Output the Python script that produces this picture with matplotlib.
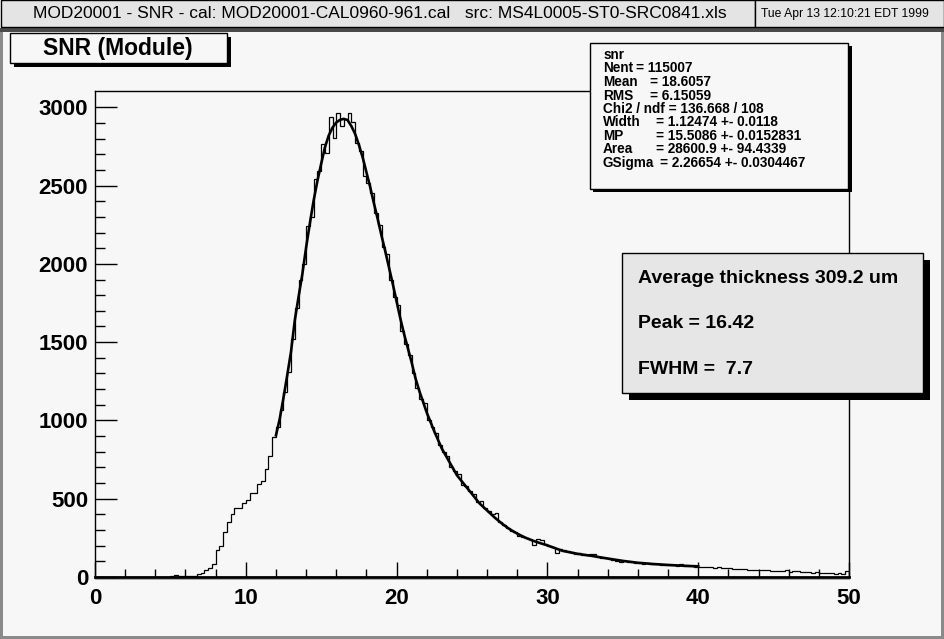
import numpy as np
import matplotlib
matplotlib.use("Agg")
import matplotlib.pyplot as plt
from matplotlib.patches import Rectangle

plt.rcParams["font.family"] = ["Liberation Sans", "DejaVu Sans"]

# histogram: 200 bins of 0.25 from 0 to 50
bin_lo, bin_hi = 0.0, 50.0
counts = [
    0, 0, 0, 0, 0, 0, 0, 0, 0, 0,
    0, 0, 0, 0, 0, 0, 0, 0, 0, 0,
    5, 13, 5, 5, 6, 6, 8, 19, 28, 43,
    60, 86, 170, 196, 285, 354, 401, 440, 440, 474,
    491, 536, 536, 592, 613, 690, 774, 896, 961, 1068,
    1182, 1310, 1520, 1716, 1900, 2000, 2240, 2300, 2540, 2593,
    2763, 2710, 2938, 2806, 2964, 2881, 2923, 2964, 2908, 2774,
    2720, 2560, 2517, 2453, 2325, 2250, 2110, 2060, 1900, 1790,
    1740, 1570, 1490, 1420, 1300, 1210, 1140, 1110, 1000, 955,
    920, 840, 800, 770, 700, 680, 660, 590, 580, 550,
    530, 480, 485, 440, 420, 400, 406, 350, 330, 310,
    295, 290, 265, 255, 250, 240, 205, 242, 238, 208,
    195, 190, 156, 178, 170, 165, 160, 150, 152, 140,
    138, 150, 148, 126, 124, 122, 118, 108, 100, 98,
    104, 96, 97, 92, 90, 86, 88, 83, 80, 82,
    78, 76, 77, 74, 72, 86, 70, 69, 68, 66,
    65, 64, 63, 62, 60, 61, 58, 57, 55, 52,
    50, 48, 49, 46, 44, 45, 47, 44, 42, 40,
    41, 36, 39, 42, 34, 38, 40, 33, 31, 30,
    28, 30, 26, 25, 27, 24, 22, 25, 21, 36,
]

# Landau (x) Gauss fit (range 12 - 40)
fit_x = [12.0, 12.25, 12.5, 12.75, 13.0, 13.25, 13.5, 13.75, 14.0, 14.25,
         14.5, 14.75, 15.0, 15.25, 15.5, 15.75, 16.0, 16.25, 16.5, 16.75,
         17.0, 17.25, 17.5, 17.75, 18.0, 18.25, 18.5, 18.75, 19.0, 19.25,
         19.5, 19.75, 20.0, 20.25, 20.5, 20.75, 21.0, 21.25, 21.5, 21.75,
         22.0, 22.5, 23.0, 23.5, 24.0, 24.5, 25.0, 25.5, 26.0, 26.5,
         27.0, 27.5, 28.0, 28.5, 29.0, 29.5, 30.0, 31.0, 32.0, 33.0,
         34.0, 35.0, 36.0, 37.0, 38.0, 39.0, 40.0]
fit_y = [905, 1010, 1145, 1290, 1440, 1640, 1790, 1935, 2105, 2260,
         2405, 2530, 2640, 2745, 2820, 2870, 2903, 2920, 2926, 2918,
         2880, 2830, 2760, 2680, 2585, 2490, 2385, 2285, 2180, 2080,
         1975, 1870, 1760, 1650, 1550, 1460, 1370, 1270, 1190, 1120,
         1050, 930, 820, 735, 650, 590, 530, 470, 425, 380,
         340, 305, 277, 253, 233, 217, 202, 167, 148, 134,
         118, 103, 91, 83, 77, 72, 68]

title_text = "MOD20001 - SNR - cal: MOD20001-CAL0960-961.cal   src: MS4L0005-ST0-SRC0841.xls"
date_text = "Tue Apr 13 12:10:21 EDT 1999"
hist_title = "SNR (Module)"
stat_names = ["Nent", "Mean", "RMS", "Chi2 / ndf", "Width", "MP", "Area", "GSigma"]
stat_values = ["115007", "18.6057", "6.15059", "136.668 / 108",
               "1.12474 +- 0.0118", "15.5086 +- 0.0152831",
               "28600.9 +- 94.4339", "2.26654 +- 0.0304467"]
info_lines = ["Average thickness 309.2 um", "Peak = 16.42", "FWHM =  7.7"]

W, H = 945, 639
PAD = "#f7f7f7"
BAR = "#e4e4e4"
BOXFILL = "#e6e6e6"

fig = plt.figure(figsize=(W / 100, H / 100), dpi=100)
fig.patch.set_facecolor(PAD)


def rect(x0, y0, x1, y1, z=2, **kw):
    r = Rectangle((x0 / W, 1 - y1 / H), (x1 - x0) / W, (y1 - y0) / H,
                  transform=fig.transFigure, zorder=z, **kw)
    fig.add_artist(r)
    return r


def text(x, y, s, z=6, **kw):
    return fig.text(x / W, 1 - y / H, s, zorder=z, **kw)


# pad borders
rect(0, 28, 3, H, z=1, facecolor="#8a8a8a", edgecolor="none")
rect(W - 4, 28, W, H, z=1, facecolor="#8a8a8a", edgecolor="none")
rect(0, H - 3, W, H, z=1, facecolor="#8a8a8a", edgecolor="none")
rect(0, 28, W, 32, z=1, facecolor="#4a4a4a", edgecolor="none")

# title bar
rect(0.5, 0.5, 755, 27, z=3, facecolor=BAR, edgecolor="black", lw=1)
rect(755, 0.5, W - 0.5, 27, z=3, facecolor=BAR, edgecolor="black", lw=1)
text(380, 14, title_text, fontsize=12.5, ha="center", va="center")
text(845, 14, date_text, fontsize=8.7, ha="center", va="center")

# main axes
x0, x1, ytop, ybot = 95, 849, 91, 577
ax = fig.add_axes([x0 / W, 1 - ybot / H, (x1 - x0) / W, (ybot - ytop) / H])
ax.set_facecolor("none")
edges = np.linspace(bin_lo, bin_hi, len(counts) + 1)
ax.stairs(counts, edges, color="black", lw=0.9)
ax.plot(fit_x, fit_y, color="black", lw=1.9)
ax.set_xlim(bin_lo, bin_hi)
ax.set_ylim(0, 3104)

ax.set_xticks(np.arange(0, 51, 10))
ax.set_xticks(np.arange(0, 51, 2), minor=True)
ax.set_yticks(np.arange(0, 3001, 500))
ax.set_yticks(np.arange(0, 3001, 100), minor=True)
ax.tick_params(axis="x", which="major", direction="in", length=10.8, width=1, pad=8)
ax.tick_params(axis="x", which="minor", direction="in", length=5.8, width=1)
ax.tick_params(axis="y", which="major", direction="in", length=16, width=1, pad=5)
ax.tick_params(axis="y", which="minor", direction="in", length=7.5, width=1)
for lab in ax.get_xticklabels() + ax.get_yticklabels():
    lab.set_fontsize(16)
    lab.set_fontweight("bold")
for side in ["left", "top", "right"]:
    ax.spines[side].set_linewidth(1)
ax.spines["bottom"].set_linewidth(2)
rect(x0, 578.5, x1 + 1, 580, z=1, facecolor="#a8a8a8", edgecolor="none")

# histogram title box
rect(14, 37, 231, 67, z=4, facecolor="black", edgecolor="none")
rect(10, 33, 227, 63, z=5, facecolor=PAD, edgecolor="black", lw=1)
text(118, 48, hist_title, fontsize=16.5, fontweight="bold", ha="center", va="center")

# stats box
rect(593, 46, 852, 192, z=4, facecolor="black", edgecolor="none")
rect(590, 43, 848, 189, z=5, facecolor=PAD, edgecolor="black", lw=1)
text(604, 55, "snr", fontsize=9.8, fontweight="bold", va="center")
eq_x = [636, 650, 650, None, 656, 656, 656, 660]
for k, (nm, val) in enumerate(zip(stat_names, stat_values)):
    yy = 55 + 13.5 * (k + 1)
    if eq_x[k] is None:
        text(603, yy, nm + " = " + val, fontsize=9.8, fontweight="bold", va="center")
    else:
        text(603, yy, nm, fontsize=9.8, fontweight="bold", va="center")
        text(eq_x[k], yy, "= " + val, fontsize=9.8, fontweight="bold", va="center")

# info box
rect(629, 260, 930, 400, z=4, facecolor="black", edgecolor="none")
rect(622, 253, 923, 393, z=5, facecolor=BOXFILL, edgecolor="black", lw=1)
for k, s in enumerate(info_lines):
    text(638, 278 + 46 * k, s, fontsize=14, fontweight="bold", va="center")

fig.savefig("out.png", dpi=100, facecolor=fig.get_facecolor())
plt.close(fig)
